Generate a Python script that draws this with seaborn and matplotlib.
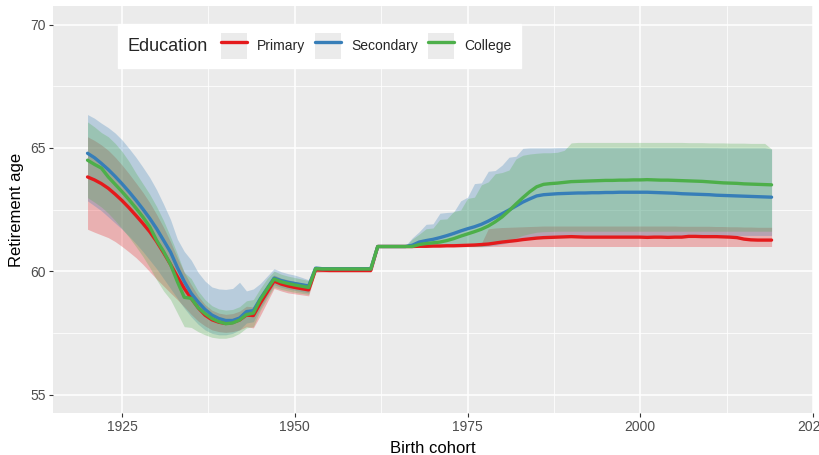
import pandas as pd
import matplotlib
matplotlib.use('Agg')
import matplotlib.pyplot as plt
import seaborn as sns
from matplotlib.lines import Line2D
from matplotlib.patches import Rectangle
from matplotlib.legend_handler import HandlerTuple
from matplotlib.offsetbox import HPacker
from matplotlib.ticker import MultipleLocator

# ── Data ──────────────────────────────────────────────────────────
cohort = list(range(1920, 2020))

primary = [
    63.82, 63.70, 63.55, 63.36, 63.12, 62.86, 62.57, 62.26, 61.94, 61.60,
    61.20, 60.75, 60.28, 59.78, 59.30, 58.90, 58.52, 58.22, 58.03, 57.93,
    57.88, 57.92, 58.02, 58.22, 58.20, 58.70, 59.15, 59.60, 59.48, 59.40,
    59.34, 59.29, 59.24, 60.05, 60.04, 60.03, 60.03, 60.03, 60.03, 60.03,
    60.03, 60.03, 61.00, 61.00, 61.00, 61.00, 61.00, 61.00, 61.01, 61.01,
    61.02, 61.02, 61.03, 61.03, 61.04, 61.05, 61.06, 61.08, 61.10, 61.14,
    61.18, 61.21, 61.24, 61.28, 61.31, 61.34, 61.36, 61.37, 61.38, 61.39,
    61.40, 61.39, 61.38, 61.38, 61.38, 61.38, 61.38, 61.38, 61.38, 61.38,
    61.38, 61.37, 61.38, 61.38, 61.37, 61.38, 61.38, 61.41, 61.41, 61.40,
    61.40, 61.40, 61.39, 61.38, 61.36, 61.30, 61.27, 61.26, 61.26, 61.26,
]
primary_lo = [
    61.70, 61.58, 61.47, 61.36, 61.20, 61.00, 60.78, 60.55, 60.28, 59.98,
    59.68, 59.40, 59.12, 58.85, 58.55, 58.25, 57.98, 57.78, 57.62, 57.55,
    57.52, 57.55, 57.62, 57.75, 57.70, 58.20, 58.75, 59.30, 59.20, 59.12,
    59.08, 59.04, 59.00, 59.95, 59.96, 59.96, 59.96, 59.96, 59.96, 59.96,
    59.96, 59.96, 60.98, 60.98, 60.98, 60.98, 60.98, 60.98, 60.98, 60.98,
    60.98, 60.98, 60.99, 60.99, 60.99, 60.99, 60.99, 60.99, 61.00, 61.00,
    61.00, 61.00, 61.00, 61.00, 61.00, 61.00, 61.00, 61.00, 61.00, 61.00,
    61.00, 61.00, 61.00, 61.00, 61.00, 61.00, 61.00, 61.00, 61.00, 61.00,
    61.00, 61.00, 61.00, 61.00, 61.00, 61.00, 61.00, 61.00, 61.00, 61.00,
    61.00, 61.00, 61.00, 61.00, 61.00, 61.00, 61.00, 61.00, 61.00, 61.00,
]
primary_hi = [
    65.45, 65.30, 65.12, 64.90, 64.62, 64.30, 63.95, 63.58, 63.20, 62.78,
    62.30, 61.78, 61.20, 60.55, 59.95, 59.45, 59.00, 58.65, 58.42, 58.30,
    58.25, 58.28, 58.38, 58.58, 58.55, 59.00, 59.42, 59.85, 59.72, 59.65,
    59.58, 59.52, 59.47, 60.12, 60.10, 60.10, 60.10, 60.10, 60.10, 60.10,
    60.10, 60.10, 61.02, 61.02, 61.02, 61.02, 61.02, 61.03, 61.04, 61.05,
    61.06, 61.07, 61.08, 61.09, 61.10, 61.11, 61.12, 61.13, 61.72, 61.75,
    61.77, 61.78, 61.79, 61.80, 61.81, 61.82, 61.83, 61.83, 61.83, 61.83,
    61.83, 61.83, 61.83, 61.83, 61.83, 61.83, 61.83, 61.83, 61.83, 61.83,
    61.83, 61.83, 61.83, 61.83, 61.83, 61.83, 61.82, 61.82, 61.82, 61.82,
    61.82, 61.81, 61.81, 61.80, 61.80, 61.79, 61.79, 61.78, 61.78, 61.78,
]

secondary = [
    64.78, 64.60, 64.37, 64.12, 63.84, 63.54, 63.22, 62.88, 62.52, 62.14,
    61.72, 61.25, 60.78, 60.15, 59.58, 59.10, 58.75, 58.45, 58.22, 58.08,
    58.00, 58.00, 58.10, 58.36, 58.40, 58.88, 59.30, 59.72, 59.62, 59.55,
    59.50, 59.45, 59.40, 60.12, 60.10, 60.10, 60.10, 60.10, 60.10, 60.10,
    60.10, 60.10, 61.00, 61.00, 61.00, 61.00, 61.00, 61.05, 61.18, 61.24,
    61.29, 61.36, 61.44, 61.53, 61.63, 61.72, 61.80, 61.90, 62.03, 62.18,
    62.33, 62.48, 62.64, 62.80, 62.93, 63.05, 63.10, 63.12, 63.14, 63.15,
    63.16, 63.17, 63.17, 63.18, 63.18, 63.19, 63.19, 63.20, 63.20, 63.20,
    63.20, 63.20, 63.19, 63.18, 63.17, 63.16, 63.14, 63.13, 63.12, 63.11,
    63.10, 63.08, 63.07, 63.06, 63.05, 63.04, 63.03, 63.02, 63.01, 63.00,
]
secondary_lo = [
    62.85, 62.65, 62.45, 62.20, 61.95, 61.70, 61.42, 61.12, 60.80, 60.45,
    60.10, 59.70, 59.30, 58.90, 58.50, 58.15, 57.85, 57.62, 57.48, 57.42,
    57.42, 57.48, 57.62, 57.90, 57.95, 58.50, 59.00, 59.45, 59.35, 59.28,
    59.22, 59.17, 59.12, 60.00, 60.02, 60.02, 60.02, 60.02, 60.02, 60.02,
    60.02, 60.02, 60.98, 60.98, 60.98, 60.98, 60.98, 60.98, 60.99, 60.99,
    60.99, 61.00, 61.00, 61.00, 61.00, 61.00, 61.00, 61.00, 61.02, 61.05,
    61.10, 61.16, 61.22, 61.28, 61.34, 61.40, 61.43, 61.45, 61.45, 61.45,
    61.45, 61.45, 61.45, 61.45, 61.45, 61.45, 61.45, 61.45, 61.45, 61.45,
    61.45, 61.45, 61.45, 61.45, 61.45, 61.45, 61.45, 61.45, 61.45, 61.45,
    61.45, 61.45, 61.45, 61.45, 61.45, 61.45, 61.45, 61.45, 61.45, 61.45,
]
secondary_hi = [
    66.35, 66.20, 66.00, 65.82, 65.60, 65.32, 64.98, 64.62, 64.22, 63.80,
    63.30, 62.72, 62.10, 61.30, 60.80, 60.45, 59.95, 59.60, 59.36, 59.28,
    59.26, 59.30, 59.55, 59.20, 59.28, 59.50, 59.80, 60.10, 59.98, 59.90,
    59.84, 59.75, 59.65, 60.22, 60.18, 60.18, 60.18, 60.18, 60.18, 60.18,
    60.18, 60.18, 61.03, 61.03, 61.03, 61.03, 61.03, 61.35, 61.60, 61.90,
    61.92, 62.35, 62.38, 62.40, 62.85, 63.00, 63.55, 63.58, 64.05, 64.08,
    64.30, 64.62, 64.66, 64.98, 65.00, 65.00, 65.00, 65.00, 65.01, 65.01,
    65.01, 65.01, 65.01, 65.01, 65.01, 65.01, 65.01, 65.01, 65.01, 65.01,
    65.01, 65.01, 65.01, 65.01, 65.01, 65.01, 65.01, 65.01, 65.01, 65.01,
    65.01, 65.01, 65.00, 65.00, 65.00, 65.00, 65.00, 65.00, 65.00, 64.95,
]

college = [
    64.50, 64.33, 64.18, 63.82, 63.52, 63.22, 62.90, 62.56, 62.20, 61.80,
    61.25, 60.80, 60.28, 59.58, 58.94, 58.90, 58.52, 58.28, 58.08, 57.95,
    57.87, 57.90, 58.02, 58.24, 58.30, 58.85, 59.28, 59.68, 59.57, 59.50,
    59.44, 59.39, 59.34, 60.10, 60.09, 60.09, 60.09, 60.09, 60.09, 60.09,
    60.09, 60.09, 61.00, 61.00, 61.00, 61.00, 61.00, 61.00, 61.08, 61.12,
    61.15, 61.18, 61.24, 61.32, 61.42, 61.51, 61.60, 61.70, 61.83, 62.00,
    62.20, 62.45, 62.72, 62.98, 63.22, 63.42, 63.52, 63.55, 63.57, 63.60,
    63.63, 63.64, 63.65, 63.66, 63.67, 63.68, 63.68, 63.69, 63.69, 63.70,
    63.70, 63.71, 63.70, 63.69, 63.69, 63.68, 63.67, 63.66, 63.65, 63.64,
    63.62, 63.60, 63.58, 63.57, 63.56, 63.54, 63.53, 63.52, 63.51, 63.50,
]
college_lo = [
    62.98, 62.80, 62.60, 62.35, 62.05, 61.72, 61.38, 61.00, 60.60, 60.15,
    59.65, 59.20, 58.85, 58.30, 57.75, 57.72, 57.55, 57.42, 57.32, 57.28,
    57.28, 57.34, 57.48, 57.70, 57.75, 58.40, 58.90, 59.36, 59.26, 59.20,
    59.14, 59.10, 59.06, 60.00, 60.02, 60.02, 60.02, 60.02, 60.02, 60.02,
    60.02, 60.02, 60.98, 60.98, 60.98, 60.98, 60.98, 60.98, 60.99, 60.99,
    61.00, 61.00, 61.00, 61.00, 61.00, 61.00, 61.00, 61.00, 61.05, 61.10,
    61.18, 61.25, 61.35, 61.45, 61.52, 61.58, 61.60, 61.61, 61.62, 61.62,
    61.62, 61.62, 61.62, 61.62, 61.62, 61.62, 61.62, 61.62, 61.62, 61.62,
    61.62, 61.62, 61.62, 61.62, 61.62, 61.62, 61.62, 61.62, 61.62, 61.62,
    61.62, 61.62, 61.62, 61.62, 61.62, 61.62, 61.62, 61.62, 61.62, 61.62,
]
college_hi = [
    66.05, 65.85, 65.62, 65.45, 65.18, 64.85, 64.45, 63.98, 63.55, 63.12,
    62.62, 62.05, 61.40, 60.70, 59.95, 59.70, 59.20, 58.85, 58.60, 58.47,
    58.42, 58.45, 58.56, 58.80, 58.85, 59.30, 59.70, 60.00, 59.88, 59.80,
    59.74, 59.68, 59.62, 60.18, 60.15, 60.15, 60.15, 60.15, 60.15, 60.15,
    60.15, 60.15, 61.02, 61.02, 61.02, 61.02, 61.02, 61.30, 61.50, 61.72,
    61.75, 62.10, 62.12, 62.42, 62.48, 62.95, 63.00, 63.50, 63.62, 63.95,
    64.00, 64.10, 64.55, 64.70, 64.75, 64.78, 64.80, 64.80, 64.82, 64.90,
    65.20, 65.22, 65.22, 65.22, 65.22, 65.22, 65.22, 65.22, 65.22, 65.22,
    65.22, 65.22, 65.22, 65.22, 65.22, 65.22, 65.22, 65.21, 65.21, 65.21,
    65.20, 65.20, 65.20, 65.19, 65.19, 65.19, 65.18, 65.18, 65.18, 64.95,
]

EDUCATION = ['Primary', 'Secondary', 'College']
COLORS = {'Primary': '#E41A1C', 'Secondary': '#377EB8', 'College': '#4DAF4A'}

series = {
    'Primary': (primary, primary_lo, primary_hi),
    'Secondary': (secondary, secondary_lo, secondary_hi),
    'College': (college, college_lo, college_hi),
}

# long format for seaborn
frames = []
for edu in EDUCATION:
    mid, lo, hi = series[edu]
    frames.append(pd.DataFrame({'cohort': cohort, 'age': mid, 'lo': lo,
                                'hi': hi, 'education': edu}))
df = pd.concat(frames, ignore_index=True)

# ── Style (ggplot-ish grey panel) ─────────────────────────────────
sns.set_theme(style='darkgrid', rc={
    'axes.facecolor': '#EBEBEB',
    'grid.color': 'white',
    'axes.edgecolor': '#EBEBEB',
})
plt.rcParams['font.family'] = ['Liberation Sans', 'DejaVu Sans']

fig = plt.figure(figsize=(8.19, 4.55), dpi=100)
ax = fig.add_axes([0.0647, 0.0923, 0.928, 0.8945])

# ribbons
for edu in EDUCATION:
    sub = df[df['education'] == edu]
    ax.fill_between(sub['cohort'], sub['lo'], sub['hi'],
                    color=COLORS[edu], alpha=0.28, linewidth=0)

# lines
sns.lineplot(data=df, x='cohort', y='age', hue='education',
             hue_order=EDUCATION, palette=COLORS, linewidth=2.4,
             legend=False, errorbar=None, ax=ax)

ax.set_xlim(1915, 2025)
ax.set_ylim(54.25, 70.75)
ax.set_xticks([1925, 1950, 1975, 2000, 2025])
ax.set_yticks([55, 60, 65, 70])
ax.xaxis.set_minor_locator(MultipleLocator(12.5))
ax.yaxis.set_minor_locator(MultipleLocator(2.5))
ax.grid(which='major', color='white', linewidth=1.1)
ax.grid(which='minor', color='white', linewidth=0.55)
ax.tick_params(which='major', length=3, width=0.8, color='#333333',
               labelcolor='#4D4D4D', labelsize=10, pad=2,
               bottom=True, left=True)
ax.tick_params(which='minor', length=0)
for s in ax.spines.values():
    s.set_visible(False)

ax.set_xlabel('Birth cohort', fontsize=12, color='black', labelpad=5)
ax.set_ylabel('Retirement age', fontsize=12, color='black', labelpad=5)

# ── Legend: title on the left, keys in a row ──────────────────────
handles = [(Rectangle((0, 0), 1, 1, facecolor='#EBEBEB', edgecolor='none'),
            Line2D([], [], color=COLORS[e], linewidth=2.4))
           for e in EDUCATION]
leg = ax.legend(handles, EDUCATION, title='Education', ncol=3,
                handler_map={tuple: HandlerTuple(ndivide=1)},
                loc='upper left', bbox_to_anchor=(0.0855, 0.956),
                borderaxespad=0, fontsize=10, title_fontsize=13,
                handlelength=1.87, handleheight=2.5, handletextpad=0.72,
                columnspacing=0.72, borderpad=0.66,
                frameon=True, fancybox=False, framealpha=1,
                facecolor='white', edgecolor='white')
box = leg._legend_box
box._children = [HPacker(pad=0, sep=10, align='center',
                         children=[leg._legend_title_box,
                                   leg._legend_handle_box])]

plt.savefig('out.png', dpi=100)
plt.close()
